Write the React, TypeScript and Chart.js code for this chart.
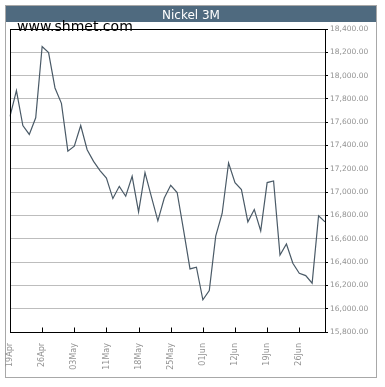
import React, { useEffect, useRef } from 'react';
import { Chart, registerables } from 'chart.js';

Chart.register(...registerables);

const chartTitle = 'Nickel 3M';
const watermark = 'www.shmet.com';

const categories = [
  '19Apr', '20Apr', '23Apr', '24Apr', '25Apr', '26Apr', '27Apr', '30Apr', '01May', '02May',
  '03May', '04May', '07May', '08May', '10May', '11May', '14May', '15May', '16May', '17May',
  '18May', '21May', '22May', '23May', '24May', '25May', '28May', '29May', '30May', '31May',
  '01Jun', '04Jun', '05Jun', '06Jun', '08Jun', '12Jun', '13Jun', '14Jun', '15Jun', '18Jun',
  '19Jun', '20Jun', '21Jun', '22Jun', '25Jun', '26Jun', '27Jun', '28Jun', '29Jun', '02Jul',
];

const nickelPrices = [
  17650, 17871, 17572, 17495, 17638, 18250, 18198, 17894, 17762, 17352,
  17395, 17572, 17364, 17264, 17185, 17120, 16945, 17050, 16965, 17136,
  16831, 17168, 16959, 16754, 16950, 17059, 16997, 16675, 16341, 16356,
  16076, 16156, 16623, 16817, 17250, 17082, 17022, 16745, 16851, 16668,
  17082, 17096, 16461, 16555, 16390, 16304, 16284, 16219, 16797, 16745,
];

const yMin = 15800;
const yMax = 18400;
const yStep = 200;
const labelEvery = 5;

const W = 385;
const H = 387;

const decorPlugin = {
  id: 'decor',
  beforeDraw(chart: any) {
    const ctx = chart.ctx;
    ctx.save();
    ctx.fillStyle = '#ffffff';
    ctx.fillRect(0, 0, W, H);
    ctx.strokeStyle = '#a8a8a8';
    ctx.lineWidth = 1;
    ctx.strokeRect(5.5, 5.5, 371, 372);
    ctx.fillStyle = '#4f6a7f';
    ctx.fillRect(6, 6, 370, 16);
    ctx.restore();
  },
  afterDraw(chart: any) {
    const ctx = chart.ctx;
    const a = chart.chartArea;
    const x = chart.scales.x;
    ctx.save();
    ctx.strokeStyle = '#000000';
    ctx.lineWidth = 1;
    const l = Math.round(a.left) + 0.5;
    const t = Math.round(a.top) + 0.5;
    const r = Math.round(a.right) + 0.5;
    const b = Math.round(a.bottom) + 0.5;
    ctx.strokeRect(l, t, r - l, b - t);
    ctx.beginPath();
    for (let i = 0; i < categories.length; i += labelEvery) {
      const px = Math.round(x.getPixelForValue(i)) + 0.5;
      ctx.moveTo(px, b - 5);
      ctx.lineTo(px, b);
    }
    ctx.stroke();
    ctx.fillStyle = '#ffffff';
    ctx.font = '12px "DejaVu Sans"';
    ctx.textAlign = 'center';
    ctx.textBaseline = 'alphabetic';
    ctx.fillText(chartTitle, 191, 19);
    ctx.fillStyle = '#000000';
    ctx.font = '14px "DejaVu Sans"';
    ctx.textAlign = 'left';
    ctx.fillText(watermark, 17, 31);
    ctx.restore();
  },
};

export default function App() {
  const ref = useRef<HTMLCanvasElement>(null);

  useEffect(() => {
    if (!ref.current) return;
    const chart = new Chart(ref.current, {
      type: 'line',
      data: {
        labels: categories,
        datasets: [
          {
            data: nickelPrices,
            borderColor: '#4a5a67',
            borderWidth: 1.2,
            pointRadius: 0,
            tension: 0,
            fill: false,
          },
        ],
      },
      options: {
        animation: false,
        responsive: false,
        devicePixelRatio: 1,
        layout: { padding: { left: 10, top: 29, right: 0, bottom: 0 } },
        plugins: {
          legend: { display: false },
          tooltip: { enabled: false },
          title: { display: false },
        },
        scales: {
          x: {
            type: 'category',
            offset: false,
            grid: { display: false },
            border: { display: false },
            afterFit(scale: any) {
              scale.height = 55;
            },
            ticks: {
              autoSkip: false,
              minRotation: 90,
              maxRotation: 90,
              padding: 3,
              color: '#939393',
              font: { family: 'DejaVu Sans', size: 8 },
              callback: (_v: any, i: number) => (i % labelEvery === 0 ? categories[i] : ''),
            },
          },
          y: {
            position: 'right',
            min: yMin,
            max: yMax,
            grid: {
              color: '#bdbdbd',
              lineWidth: 1,
              tickColor: '#000000',
              tickLength: 3,
              drawTicks: true,
            },
            border: { display: false },
            afterFit(scale: any) {
              scale.width = 60;
            },
            ticks: {
              stepSize: yStep,
              padding: 2,
              color: '#939393',
              font: { family: 'DejaVu Sans', size: 7.5 },
              callback: (v: any) =>
                Number(v).toLocaleString('en-US', { minimumFractionDigits: 2, maximumFractionDigits: 2 }),
            },
          },
        },
      },
      plugins: [decorPlugin],
    });
    return () => chart.destroy();
  }, []);

  return (
    <div style={{ position: 'fixed', left: 0, top: 0, width: W, height: H, background: '#fff' }}>
      <canvas ref={ref} width={W} height={H} style={{ display: 'block', width: W, height: H }} />
    </div>
  );
}
